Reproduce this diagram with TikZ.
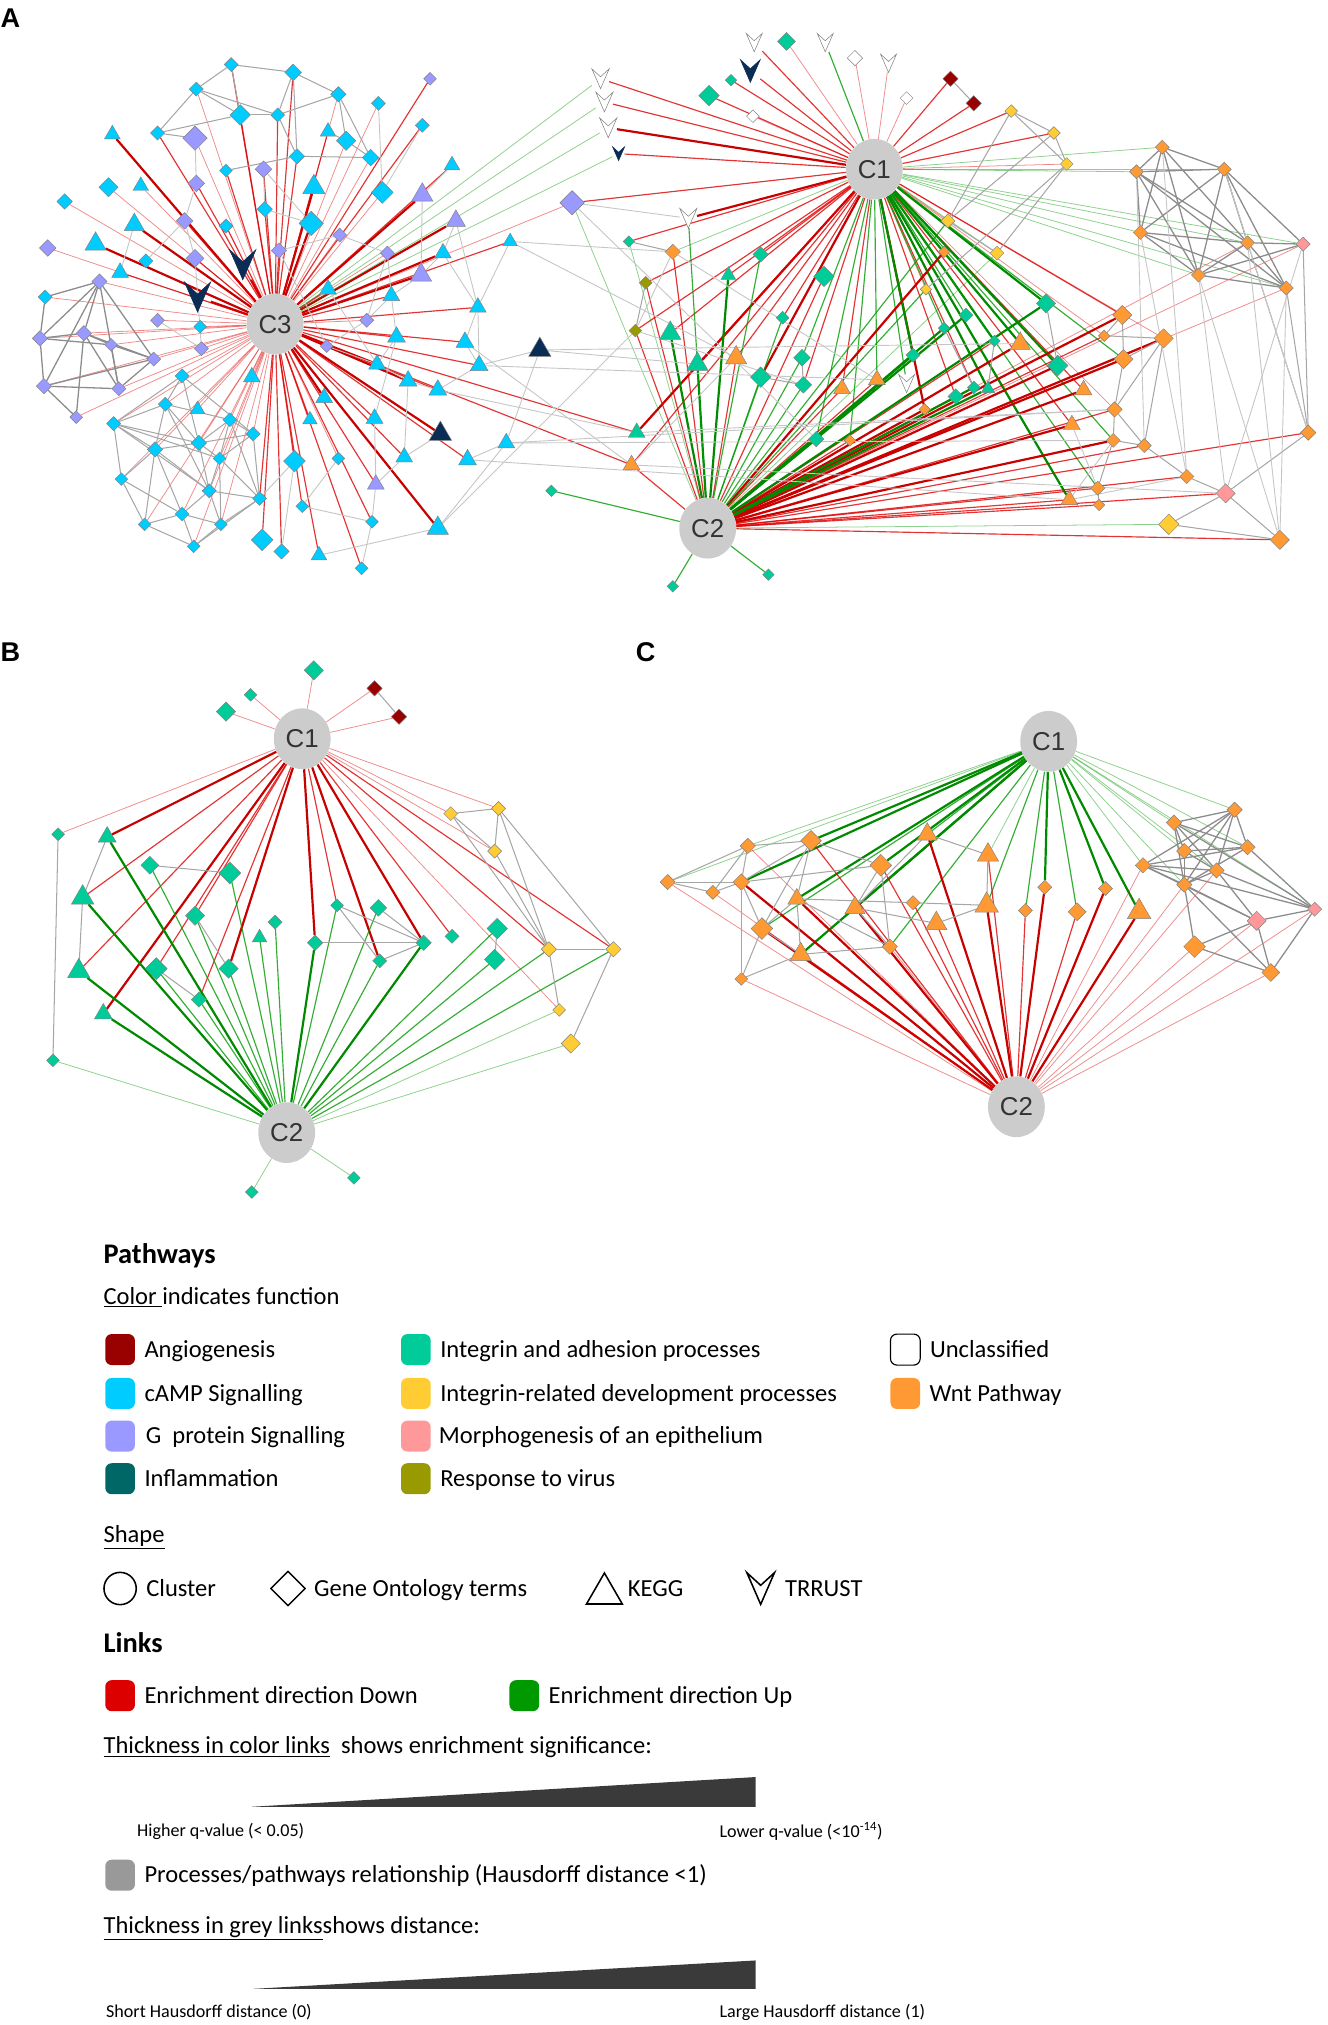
\documentclass[tikz,border=0pt]{standalone}
\usepackage{fontspec}
\newfontfamily\legfont{Carlito}
\newfontfamily\netfont{Liberation Sans}
\usetikzlibrary{positioning, calc, shapes.geometric}
\pgfdeclarelayer{edges}
\pgfsetlayers{edges,main}

\definecolor{angio}{HTML}{990000}
\definecolor{camp}{HTML}{00CCFF}
\definecolor{gprot}{HTML}{9999FF}
\definecolor{inflam}{HTML}{006666}
\definecolor{navyn}{HTML}{0B2D55}
\definecolor{integ}{HTML}{00CC99}
\definecolor{intdev}{HTML}{FFCC33}
\definecolor{morph}{HTML}{FF9999}
\definecolor{virus}{HTML}{999900}
\definecolor{wnt}{HTML}{FF9933}
\definecolor{linkdn}{HTML}{DD0000}
\definecolor{linkup}{HTML}{009900}
\definecolor{linkgr}{HTML}{999999}
\definecolor{wedge}{HTML}{3A3A3A}

\tikzstyle{clus} = [ellipse, fill=gray!40, minimum width=44, minimum height=47,
    inner sep=0, font=\netfont\fontsize{20}{20}\selectfont, text=black!80]
\tikzstyle{panlab} = [inner sep=0, font=\netfont\bfseries\fontsize{21}{21}\selectfont]
\tikzstyle{dnS} = [draw=linkdn, draw opacity=.45, line width=.6]
\tikzstyle{dn} = [draw=linkdn, draw opacity=.8, line width=.9]
\tikzstyle{dnT} = [draw=linkdn!90!black, line width=1.7]
\tikzstyle{upS} = [draw=linkup, draw opacity=.45, line width=.6]
\tikzstyle{up} = [draw=linkup, draw opacity=.8, line width=.9]
\tikzstyle{upT} = [draw=linkup!90!black, line width=1.7]
\tikzstyle{gS} = [draw=gray!45, line width=.7]
\tikzstyle{gM} = [draw=gray!70, line width=.8]
\tikzstyle{gT} = [draw=gray!90, line width=1]
\tikzstyle{legtx} = [inner sep=0, text height=14, text depth=2, anchor=west,
    font=\legfont\fontsize{19}{22}\selectfont]
\tikzstyle{leghd} = [inner sep=0, anchor=west, font=\legfont\bfseries\fontsize{22}{24}\selectfont]
\tikzstyle{legsm} = [inner sep=0, anchor=west, font=\legfont\fontsize{14}{16}\selectfont]
\tikzstyle{legsw} = [rectangle, rounded corners=5, minimum width=23, minimum height=24, inner sep=0]
\tikzset{
  dm/.style={diamond, draw=black!50, line width=.35, inner sep=0, minimum size=#1},
  tri/.style={regular polygon, regular polygon sides=3, draw=black!50, line width=.35,
    inner sep=0, minimum size=#1},
  trr/.style={rectangle, inner sep=0, minimum width=#1, minimum height=1.15*#1}
}

\begin{document}
\begin{tikzpicture}[x=1pt, y=-1pt]
  \useasboundingbox (0,0) rectangle (1028,1568);

  % Panel letters
  \node [panlab] (labA) at (8,14) {A};
  \node [panlab] (labB) at (8,505) {B};
  \node [panlab] (labC) at (500,505) {C};

  % Place cluster nodes
  \node [clus] (c3A) at (213,251) {C3};
  \node [clus] (c1A) at (677,131) {C1};
  \node [clus] (c2A) at (548,409) {C2};
  \node [clus] (c1B) at (234,572) {C1};
  \node [clus] (c2B) at (222,877) {C2};
  \node [clus] (c1C) at (812,574) {C1};
  \node [clus] (c2C) at (787,857) {C2};

  % Place pathway nodes: diamonds
  \foreach \n/\x/\y/\sz/\col in {
    l1/179/50/11/camp, l2/227/56/13/camp, l3/152/69/11/camp, l4/262/73/12/camp,
    l5/333/61/10/gprot, l6/293/80/11/camp, l7/186/89/16/camp, l8/215/89/11/camp,
    l9/327/97/11/camp, l11/122/103/11/camp, l12/151/107/19/gprot, l14/268/109/15/camp,
    l15/230/121/12/camp, l16/287/122/13/camp, l18/175/132/10/camp, l19/204/131/13/gprot,
    l20/84/145/15/camp, l22/152/142/13/gprot, l24/296/149/17/camp, l26/50/156/12/camp,
    l27/205/162/12/camp, l29/143/171/13/gprot, l30/175/175/11/camp, l31/241/173/19/camp,
    l32/263/182/11/gprot, l34/37/192/13/gprot, l36/151/200/14/gprot, l37/113/202/11/camp,
    l38/216/194/12/gprot, l40/300/196/11/gprot, l43/443/157/19/gprot, l46/77/218/12/gprot,
    l50/35/230/11/camp, l52/122/248/11/gprot, l53/284/248/11/gprot, l54/155/253/10/camp,
    l55/31/262/12/gprot, l56/65/258/12/gprot, l57/86/267/10/gprot, l61/253/268/10/gprot,
    l62/156/270/11/gprot, l63/119/278/11/gprot, l66/34/299/12/gprot, l67/92/301/11/gprot,
    l68/141/291/11/camp, l72/128/313/11/camp, l75/59/323/10/gprot, l76/88/328/11/camp,
    l77/178/325/11/camp, l81/196/336/11/camp, l82/154/343/12/camp, l83/120/348/12/camp,
    l84/170/355/10/camp, l85/228/357/17/camp, l86/262/355/10/camp, l90/94/371/10/camp,
    l91/162/380/11/camp, l93/201/386/11/camp, l94/141/398/11/camp, l95/234/392/10/camp,
    l96/112/406/10/camp, l97/171/406/10/camp, l98/288/404/10/camp, l100/203/418/17/camp,
    l101/150/423/10/camp, l102/218/427/12/camp, l104/280/440/10/camp,
    r2/609/32/14/integ, r4/662/45/12/white, r6/566/62/9/integ, r8/549/74/16/integ,
    r9/583/90/10/white, r10/702/76/10/white, r11/736/61/12/angio, r12/754/80/12/angio,
    r13/783/86/10/intdev, r14/816/103/10/intdev, r15/826/127/10/intdev, r22/487/187/9/integ,
    r23/521/195/12/wnt, r24/500/219/10/virus, r25/492/256/10/virus, r27/589/197/12/integ,
    r28/638/214/16/integ, r29/734/171/11/intdev, r30/731/195/9/wnt, r31/772/196/11/intdev,
    r32/717/224/9/intdev, r33/606/246/10/integ, r35/621/277/13/integ, r38/589/292/16/integ,
    r39/622/298/13/integ, r43/707/275/11/integ, r44/731/254/9/integ, r45/748/244/11/integ,
    r46/770/264/9/integ, r48/810/235/15/integ, r49/819/283/16/integ, r50/740/307/12/integ,
    r51/754/300/10/integ, r53/716/317/9/wnt, r54/632/340/12/integ, r55/658/341/9/wnt,
    r61/869/244/15/wnt, r62/855/260/9/wnt, r63/901/262/15/wnt, r64/870/278/15/wnt,
    r65/863/317/12/wnt, r66/862/341/11/wnt, r67/886/345/11/wnt, r68/919/369/11/wnt,
    r69/850/378/11/wnt, r70/851/391/9/wnt, r71/949/382/15/morph, r72/905/406/16/intdev,
    r73/991/418/15/wnt, r74/1013/335/12/wnt, r75/1009/189/11/morph, r76/900/114/11/wnt,
    r77/880/133/11/wnt, r78/948/131/11/wnt, r79/883/180/11/wnt, r80/966/188/11/wnt,
    r81/928/213/11/wnt, r82/996/223/11/wnt, r83/521/454/9/integ, r84/595/445/9/integ,
    r85/427/380/9/integ,
    b1/243/519/15/integ, b2/194/538/10/integ, b3/175/551/15/integ, b4/290/533/12/angio,
    b5/309/555/12/angio, b6/45/646/10/integ, b8/116/670/14/integ, b9/178/676/17/integ,
    b11/151/709/15/integ, b13/213/714/11/integ, b14/261/701/10/integ, b15/293/703/13/integ,
    b16/244/730/12/integ, b17/328/730/12/integ, b18/350/725/11/integ, b19/294/744/11/integ,
    b21/121/750/17/integ, b22/177/750/15/integ, b23/154/774/12/integ, b25/41/821/10/integ,
    b26/385/719/16/integ, b27/383/743/16/integ, b28/349/630/11/intdev, b29/386/626/11/intdev,
    b30/383/659/11/intdev, b31/425/735/12/intdev, b32/475/735/12/intdev, b33/433/782/10/intdev,
    b34/442/808/15/intdev, b35/195/923/10/integ, b36/274/912/10/integ,
    k1/517/683/12/wnt, k2/579/655/12/wnt, k3/628/651/16/wnt, k4/552/691/11/wnt,
    k5/574/683/13/wnt, k6/682/670/17/wnt, k11/707/699/11/wnt, k13/794/705/11/wnt,
    k14/809/687/11/wnt, k15/834/706/14/wnt, k16/856/688/11/wnt, k18/590/719/17/wnt,
    k20/689/733/12/wnt, k22/574/758/10/wnt, k23/956/627/12/wnt, k24/909/637/12/wnt,
    k25/917/659/12/wnt, k26/966/656/12/wnt, k27/885/670/12/wnt, k28/942/674/12/wnt,
    k29/917/685/12/wnt, k30/1018/704/11/morph, k31/973/713/15/morph, k32/925/733/17/wnt,
    k33/984/753/14/wnt}
    \node [dm=\sz, fill=\col] (\n) at (\x,\y) {};

  % Place pathway nodes: triangles (KEGG)
  \foreach \n/\x/\y/\sz/\col in {
    l10/87/104/14/camp, l13/254/102/14/camp, l17/350/128/14/camp, l21/109/144/14/camp,
    l23/243/145/20/camp, l25/327/151/19/gprot, l28/104/174/18/camp, l33/353/171/17/gprot,
    l35/74/189/19/camp, l41/343/196/15/camp, l42/395/187/13/camp, l44/93/211/15/camp,
    l45/326/213/19/gprot, l48/254/224/15/camp, l49/303/229/15/camp, l51/370/238/15/camp,
    l58/307/261/16/camp, l59/360/265/16/camp, l60/418/271/20/navyn, l64/371/283/16/camp,
    l65/292/282/15/camp, l69/195/292/15/camp, l70/316/295/16/camp, l71/339/302/16/camp,
    l73/251/308/15/camp, l74/153/317/13/camp, l78/240/325/13/camp, l79/290/324/15/camp,
    l80/341/336/20/navyn, l87/313/354/15/camp, l88/362/356/16/camp, l89/392/343/15/camp,
    l92/291/375/15/gprot, l99/339/409/19/camp, l103/247/430/14/camp,
    r26/564/213/13/integ, r34/519/258/19/integ, r36/540/282/19/integ, r37/570/277/19/wnt,
    r40/652/301/15/wnt, r41/679/294/15/wnt, r47/790/266/18/wnt, r52/765/301/12/integ,
    r56/493/335/15/integ, r57/489/360/15/wnt, r58/839/302/15/wnt, r59/830/329/15/wnt,
    r60/828/387/15/wnt,
    b7/83/648/16/integ, b10/64/695/20/integ, b12/201/726/13/integ, b20/61/752/20/integ,
    b24/80/785/16/integ,
    k7/718/646/18/wnt, k8/765/662/19/wnt, k9/617/696/16/wnt, k10/662/703/18/wnt,
    k12/764/701/21/wnt, k17/882/706/21/wnt, k19/725/715/19/wnt, k21/620/739/19/wnt}
    \node [tri=\sz, fill=\col] (\n) at (\x,\y) {};

  % Place pathway nodes: TRRUST
  \foreach \n/\x/\y/\sz/\col/\dc in {
    l39/188/205/20/navyn/navyn, l47/153/230/20/navyn/navyn,
    r1/584/33/12/white/gray, r3/639/33/12/white/gray, r5/688/49/12/white/gray,
    r7/581/55/15/navyn/navyn, r16/465/61/13/white/gray, r17/468/79/13/white/gray,
    r18/471/99/13/white/gray, r19/479/119/9/navyn/navyn, r21/533/169/13/white/gray,
    r42/702/297/12/white/gray} {
    \node [trr=\sz] (\n) at (\x,\y) {};
    \filldraw [fill=\col, draw=\dc, line width=.4] (\n.north west) -- (\n.south)
      -- (\n.north east) -- ($(\n.north)!.4!(\n.south)$) -- cycle;
  }

  \begin{pgfonlayer}{edges}
  % Draw edges: panel A, cluster C3
  \foreach \t in {l10,l35,l39,l47,l45,l25,l33,l41,l23,l70,l80,l99,l73,l65,l31,l28}
    \draw [dnT] (c3A) -- (\t);
  \foreach \t in {l1,l7,l2,l8,l13,l11,l15,l18,l19,l22,l29,l36,l30,l27,l38,l44,l49,l48,
    l51,l58,l59,l64,l71,l79,l87,l88,l78,l92,l85,l102,l103,l100,l93,l95,l98,l104,l9,l5,
    l17,l42,r56,r57}
    \draw [dn] (c3A) -- (\t);
  \foreach \t in {l3,l12,l20,l21,l26,l34,l46,l50,l52,l54,l55,l56,l57,l61,l62,l63,l66,
    l67,l68,l69,l72,l74,l75,l76,l77,l81,l82,l83,l84,l86,l90,l91,l94,l96,l97,l101,l24,
    l6,l14,l16,l32,l40,l53,l43,l4}
    \draw [dnS] (c3A) -- (\t);
  \foreach \t in {r16,r17,r18,r19}
    \draw [upS] (c3A) -- (\t);

  % Draw edges: panel A, clusters C1 and C2
  \foreach \t in {r18,r21,r56,r38,r53}
    \draw [dnT] (c1A) -- (\t);
  \foreach \t in {r16,r17,r19,r1,r7,r6,r8,r13,r14,r11,r12,l43,r22,r24,r25,r26,r34,r36,
    r37,r27,r33,r39,r50,r51,r58,r59,r40,r61,r57}
    \draw [dn] (c1A) -- (\t);
  \foreach \t in {r2,r4,r5,r10,r15,r29,r32,r63,r65,r62,r9}
    \draw [dnS] (c1A) -- (\t);
  \foreach \t in {r48,r49,r52,r43,r47,r60,r46}
    \draw [upT] (c1A) -- (\t);
  \foreach \t in {r3,r35,r54,r44,r45,r42,r41,r64,r66,r69,r55}
    \draw [up] (c1A) -- (\t);
  \foreach \t in {r76,r77,r78,r79,r80,r81,r82,r75,r31,r23}
    \draw [upS] (c1A) -- (\t);
  \foreach \t in {r49,r63,r61,r64,r66,r59,r58,r30,r47,r53}
    \draw [dnT] (c2A) -- (\t);
  \foreach \t in {r60,r65,r67,r68,r69,r70,r71,r73,r74,r40,r55,r37,r57,r24,r25,r23,r28,
    r62,r46,r50,r41}
    \draw [dn] (c2A) -- (\t);
  \foreach \t in {r75,r80,r82}
    \draw [dnS] (c2A) -- (\t);
  \foreach \t in {r26,r34,r36,r43,r44,r48,r52,r54,r51,r45}
    \draw [upT] (c2A) -- (\t);
  \foreach \t in {r21,r27,r35,r38,r39,r33,r83,r84,r85,r29,r32}
    \draw [up] (c2A) -- (\t);
  \foreach \t in {r22,l43,r72,r31}
    \draw [upS] (c2A) -- (\t);

  % Draw edges: panel A, relationships
  \foreach \a/\b in {l1/l3,l1/l7,l2/l4,l2/l8,l3/l11,l3/l7,l4/l14,l4/l16,l4/l8,l7/l8,
    l7/l11,l8/l15,l14/l16,l15/l16,l15/l18,l13/l14,l3/l8,l11/l12,l2/l15,l1/l2,
    l68/l76,l68/l72,l68/l82,l68/l81,l72/l76,l72/l77,l72/l83,l72/l82,l72/l91,l76/l83,
    l76/l90,l76/l84,l76/l91,l77/l81,l77/l82,l77/l84,l77/l93,l81/l82,l81/l84,l81/l93,
    l82/l83,l82/l84,l82/l91,l83/l90,l83/l91,l83/l94,l83/l96,l84/l91,l84/l93,l84/l97,
    l90/l94,l90/l96,l91/l94,l91/l97,l91/l93,l93/l97,l94/l96,l94/l101,l94/l97,l96/l101,
    l97/l101,l93/l101,l76/l82,
    r11/r12,r24/r25,r13/r14,r13/r15,r14/r15,r13/r29,r14/r29,r15/r31,r29/r31,r15/r32,
    r48/r49,r35/r39,r38/r39,r46/r52,r44/r51,r61/r62,r61/r64,r62/r63,r63/r64,r63/r65,
    r64/r65,r65/r66,r65/r67,r66/r69,r66/r67,r67/r68,r67/r63,r69/r70,r68/r71,r71/r73,
    r71/r74,r72/r71,r72/r73,r74/r75,r74/r80,r74/r82,r22/r23}
    \draw [gM] (\a) -- (\b);
  \foreach \a/\b in {l46/l50,l46/l55,l46/l56,l46/l66,l46/l63,l46/l67,l55/l56,l55/l66,
    l55/l57,l56/l57,l56/l63,l56/l67,l57/l63,l57/l67,l63/l66,l63/l67,l66/l67,l50/l55,
    l75/l56,l75/l66,
    r76/r77,r76/r78,r76/r79,r76/r80,r76/r81,r77/r78,r77/r79,r77/r80,r77/r81,r77/r82,
    r78/r79,r78/r80,r78/r81,r78/r82,r79/r80,r79/r81,r79/r82,r80/r81,r80/r82,r81/r82,
    r75/r81,r75/r80,r75/r78}
    \draw [gT] (\a) -- (\b);
  \foreach \a/\b in {l25/l45,l33/l41,l33/l51,l41/l51,l41/l45,l45/l49,l49/l58,l51/l59,
    l51/l64,l58/l65,l59/l64,l64/l71,l65/l70,l70/l71,l70/l87,l49/l53,l53/l61,l61/l65,
    l32/l38,l32/l40,l40/l53,l27/l31,l19/l27,l22/l29,l29/l36,l44/l28,l37/l29,l60/l64,
    l60/l89,l89/l99,l88/l89,l87/l92,l80/l87,l86/l95,l85/l93,l95/l98,l85/l102,l98/l104,
    l92/l98,l36/l62,l52/l62,l22/l12,l9/l24,l6/l24,l17/l25,l42/l51,l19/l31,l38/l61,
    l48/l65,l99/l103,l79/l92,l40/l49,l58/l79,
    l42/r23,l42/r37,l60/r47,l64/r41,l89/r65,l88/r60,l99/r25,l43/r21,l43/r54,l60/r36,
    l59/r57,l71/r56,l89/r66,
    r82/r73,r81/r71,r79/r68,r80/r73,r75/r71,r78/r74,r76/r68,r77/r67,r60/r68,r60/r66,
    r69/r59,r57/r71,r56/r65,r23/r25,r23/r41,r25/r39,r57/r37,r73/r81}
    \draw [gS] (\a) -- (\b);

  % Draw edges: panel B
  \foreach \t in {b7,b16,b19,b17,b22,b24}
    \draw [dnT] (c1B) -- (\t);
  \foreach \t in {b10,b20,b11,b21,b23,b14,b18,b31,b32}
    \draw [dn] (c1B) -- (\t);
  \foreach \t in {b6,b2,b3,b1,b4,b5,b28,b29,b30,b33}
    \draw [dnS] (c1B) -- (\t);
  \foreach \t in {b7,b10,b20,b24,b16,b17}
    \draw [upT] (c2B) -- (\t);
  \foreach \t in {b8,b9,b11,b21,b22,b23,b12,b13,b14,b15,b19,b26,b27,b31,b32}
    \draw [up] (c2B) -- (\t);
  \foreach \t in {b25,b34,b35,b36,b33}
    \draw [upS] (c2B) -- (\t);
  \foreach \a/\b in {b4/b5,b6/b25,b7/b10,b10/b20,b8/b9,b11/b22,b21/b23,b14/b17,b14/b19,
    b15/b17,b16/b17,b17/b19,b26/b27,b28/b29,b28/b30,b29/b30,b29/b31,b29/b32,b30/b31,
    b28/b31,b31/b32,b31/b33,b32/b34}
    \draw [gM] (\a) -- (\b);

  % Draw edges: panel C
  \foreach \t in {k3,k5,k6,k9,k10,k14,k16,k17,k21}
    \draw [upT] (c1C) -- (\t);
  \foreach \t in {k18,k20,k7,k12,k13,k15}
    \draw [up] (c1C) -- (\t);
  \foreach \t in {k1,k2,k23,k24,k25,k26,k27,k28,k30,k29,k8}
    \draw [upS] (c1C) -- (\t);
  \foreach \t in {k9,k10,k14,k16,k17,k7,k12,k5,k18}
    \draw [dnT] (c2C) -- (\t);
  \foreach \t in {k3,k6,k21,k19,k11,k8,k13,k15}
    \draw [dn] (c2C) -- (\t);
  \foreach \t in {k1,k4,k22,k20,k27,k29,k31,k32,k33,k30,k2,k28}
    \draw [dnS] (c2C) -- (\t);
  \foreach \a/\b in {k1/k2,k1/k4,k1/k5,k2/k3,k2/k5,k2/k4,k3/k5,k3/k6,k3/k9,k3/k18,
    k4/k5,k5/k6,k5/k18,k6/k20,k6/k10,k9/k18,k9/k21,k9/k20,k9/k11,k10/k20,k18/k21,
    k18/k22,k20/k21,k22/k21,k7/k8,k7/k10,k8/k12,k11/k12,k12/k19,k19/k10,k5/k22}
    \draw [gM] (\a) -- (\b);
  \foreach \a/\b in {k23/k24,k23/k25,k23/k26,k23/k27,k23/k28,k23/k29,k24/k25,k24/k26,
    k24/k28,k24/k29,k24/k30,k25/k26,k25/k28,k25/k29,k26/k27,k26/k29,k26/k30,k27/k28,
    k27/k29,k27/k30,k28/k29,k28/k30,k28/k31,k29/k31,k29/k32,k29/k33,k31/k32,k31/k33,
    k30/k31,k30/k33,k32/k33,k27/k31}
    \draw [gT] (\a) -- (\b);
  \end{pgfonlayer}

  % Legend: pathways
  \node [leghd] (hpath) at (80,972) {Pathways};
  \node [legtx] (hcol) at (80,1004) {\underline{Color\ }indicates function};
  \node [legsw, fill=angio] (sw1) at (93,1045) {};
  \node [legsw, fill=camp] (sw2) at (93,1079) {};
  \node [legsw, fill=gprot] (sw3) at (93,1112) {};
  \node [legsw, fill=inflam] (sw4) at (93,1145) {};
  \node [legsw, fill=integ] (sw5) at (322,1045) {};
  \node [legsw, fill=intdev] (sw6) at (322,1079) {};
  \node [legsw, fill=morph] (sw7) at (322,1112) {};
  \node [legsw, fill=virus] (sw8) at (322,1145) {};
  \node [legsw, draw=black, line width=.9, fill=white] (sw9) at (701,1045) {};
  \node [legsw, fill=wnt] (sw10) at (701,1079) {};
  \node [legtx, right=7pt of sw1] (t1) {Angiogenesis};
  \node [legtx, right=7pt of sw2] (t2) {cAMP Signalling};
  \node [legtx, right=8pt of sw3] (t3) {G\ \ protein Signalling};
  \node [legtx, right=7pt of sw4] (t4) {Inflammation};
  \node [legtx, right=7pt of sw5] (t5) {Integrin and adhesion processes};
  \node [legtx, right=7pt of sw6] (t6) {Integrin-related development processes};
  \node [legtx, right=6pt of sw7] (t7) {Morphogenesis of an epithelium};
  \node [legtx, right=7pt of sw8] (t8) {Response to virus};
  \node [legtx, right=7pt of sw9] (t9) {Unclassified};
  \node [legtx, right=7pt of sw10] (t10) {Wnt Pathway};

  % Legend: shapes
  \node [legtx] (hshape) at (80,1188) {\underline{Shape}};
  \node [circle, draw, line width=1.2, minimum size=25, inner sep=0] (lgcl) at (93,1230) {};
  \node [diamond, draw, line width=1.2, minimum size=27, inner sep=0] (lgdm) at (223,1230) {};
  \node [regular polygon, regular polygon sides=3, draw, line width=1.2, minimum size=32,
    inner sep=0] (lgtri) at (468,1234) {};
  \node [trr=21] (lgtr) at (589,1230) {};
  \filldraw [fill=white, draw=black, line width=1.2] (lgtr.north west) -- (lgtr.south)
    -- (lgtr.north east) -- ($(lgtr.north)!.4!(lgtr.south)$) -- cycle;
  \node [legtx, right=7pt of lgcl] (tcl) {Cluster};
  \node [legtx, right=6pt of lgdm] (tdm) {Gene Ontology terms};
  \node [legtx] (ttri) at (486,1230) {KEGG};
  \node [legtx, right=8pt of lgtr] (ttr) {TRRUST};

  % Legend: links
  \node [leghd] (hlink) at (80,1272) {Links};
  \node [legsw, fill=linkdn] (swdn) at (93,1313) {};
  \node [legsw, fill=linkup] (swup) at (406,1313) {};
  \node [legtx, right=7pt of swdn] (tdn) {Enrichment direction Down};
  \node [legtx, right=7pt of swup] (tup) {Enrichment direction Up};
  \node [legtx] (hthk) at (80,1352) {\underline{Thickness in color links}\ \ shows enrichment significance:};
  \fill [wedge] (195,1399) -- (585,1376) -- (585,1399) -- cycle;
  \node [legsm] (thq) at (106,1418) {Higher q-value (< 0.05)};
  \node [legsm] (tlq) at (557,1418) {Lower q-value (<10\textsuperscript{-14})};
  \node [legsw, fill=linkgr] (swgr) at (93,1452) {};
  \node [legtx, right=7pt of swgr] (tgr) {Processes/pathways relationship (Hausdorff distance <1)};
  \node [legtx] (hgrey) at (80,1491) {\underline{Thickness in grey links}shows distance:};
  \fill [wedge] (196,1540) -- (585,1518) -- (585,1540) -- cycle;
  \node [legsm] (tsh) at (82,1558) {Short Hausdorff distance (0)};
  \node [legsm] (tlg) at (557,1558) {Large Hausdorff distance (1)};
\end{tikzpicture}
\end{document}
